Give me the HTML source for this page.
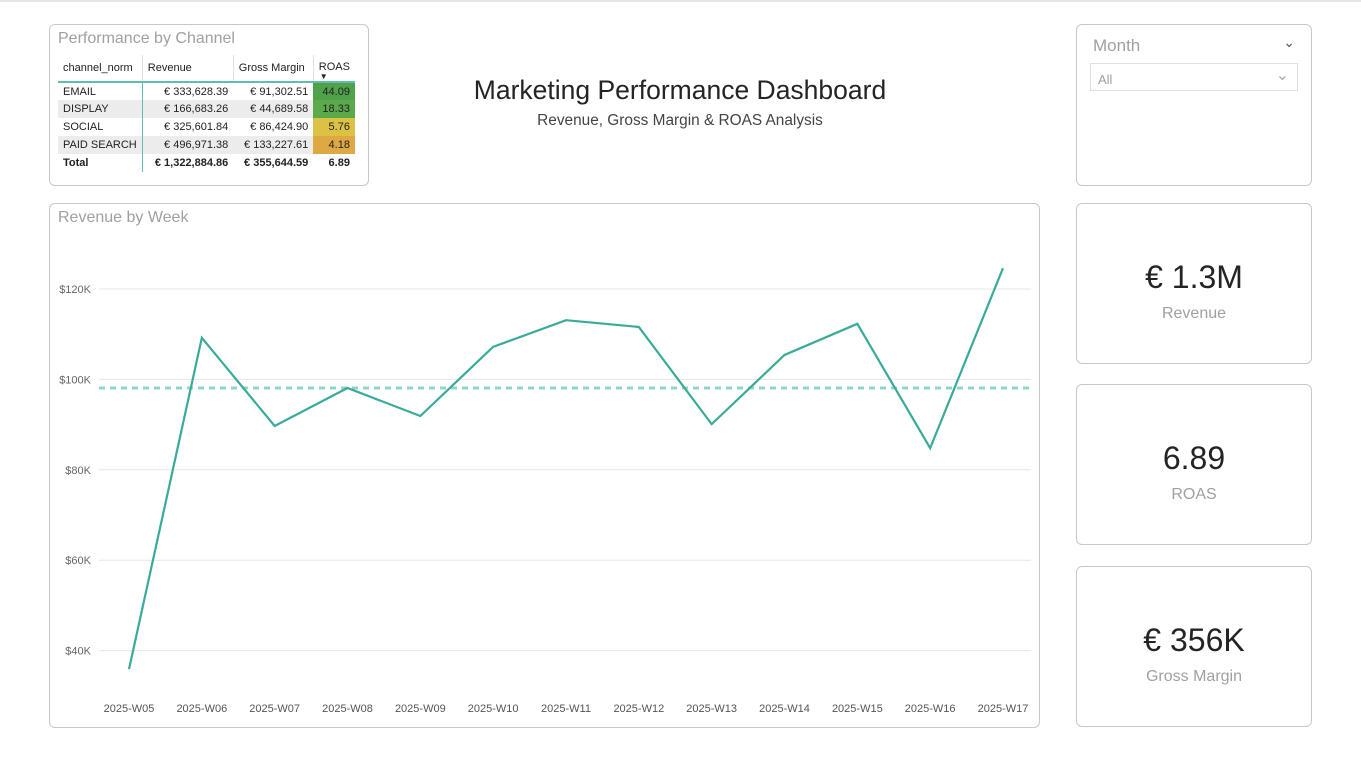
<!DOCTYPE html>
<html><head><meta charset="utf-8">
<style>
*{box-sizing:border-box;margin:0;padding:0}
body{width:1361px;height:767px;background:#fff;font-family:"Liberation Sans",sans-serif;position:relative;overflow:hidden}
.card{position:absolute;border:1px solid #c8c8c8;border-radius:6px;background:#fff}
.ttl{position:absolute;color:#a0a0a0;font-size:16px}
table{position:absolute;left:8px;top:30px;border-collapse:collapse;font-size:11px;color:#222}
td{height:18px;padding:0 5px;white-space:nowrap}
th{font-weight:normal;text-align:left;height:27px;padding:0 5px;vertical-align:middle;border-bottom:2px solid #5fbfae}
.r{text-align:right}
.sh td{background:#ececec}
.vl{border-left:1px solid #e0e0e0}
.kpi{text-align:center}
.kv{position:absolute;left:0;right:0;font-size:32px;color:#252423}
.kl{position:absolute;left:0;right:0;font-size:16px;color:#a0a0a0}
</style></head><body>
<div style="position:absolute;left:0;top:0;width:1361px;height:2px;background:#e6e6e6"></div>

<div class="card" style="left:49px;top:24px;width:320px;height:162px">
<div class="ttl" style="left:8px;top:5px">Performance by Channel</div>
<table>
<tr><th style="width:82px">channel_norm</th><th class="vl" style="width:91px">Revenue</th><th class="vl" style="width:80px">Gross Margin</th><th class="vl" style="width:41px;position:relative;vertical-align:top;padding-top:6px">ROAS<span style="position:absolute;left:6px;bottom:0px;font-size:8px">▼</span></th></tr>
<tr><td>EMAIL</td><td class="r" style="border-left:1px solid #5fbfae">€ 333,628.39</td><td class="r">€ 91,302.51</td><td class="r" style="background:#4fa14a">44.09</td></tr>
<tr class="sh"><td>DISPLAY</td><td class="r" style="border-left:1px solid #5fbfae">€ 166,683.26</td><td class="r">€ 44,689.58</td><td class="r" style="background:#5ba94a">18.33</td></tr>
<tr><td>SOCIAL</td><td class="r" style="border-left:1px solid #5fbfae">€ 325,601.84</td><td class="r">€ 86,424.90</td><td class="r" style="background:#dcc243">5.76</td></tr>
<tr class="sh"><td>PAID SEARCH</td><td class="r" style="border-left:1px solid #5fbfae">€ 496,971.38</td><td class="r">€ 133,227.61</td><td class="r" style="background:#dea845">4.18</td></tr>
<tr style="font-weight:bold"><td>Total</td><td class="r" style="border-left:1px solid #5fbfae">€ 1,322,884.86</td><td class="r">€ 355,644.59</td><td class="r">6.89</td></tr>
</table>
</div>

<div style="position:absolute;left:380px;width:600px;top:75px;text-align:center;font-size:26.5px;color:#252423">Marketing Performance Dashboard</div>
<div style="position:absolute;left:380px;width:600px;top:112px;text-align:center;font-size:15.4px;color:#444">Revenue, Gross Margin &amp; ROAS Analysis</div>

<div class="card" style="left:1076px;top:24px;width:236px;height:162px">
<div class="ttl" style="left:16px;top:11px;font-size:17px">Month</div>
<div style="position:absolute;right:16px;top:9px;color:#555;font-size:14px">&#8964;</div>
<div style="position:absolute;left:13px;top:38px;width:208px;height:28px;border:1px solid #e0e0e0;color:#a0a0a0;font-size:13px;padding:8px 0 0 7px">All<span style="position:absolute;right:8px;top:1px;font-size:16px;color:#aaa">&#8964;</span></div>
</div>

<div class="card kpi" style="left:1076px;top:203px;width:236px;height:161px">
<div class="kv" style="top:55px">€ 1.3M</div><div class="kl" style="top:101px">Revenue</div></div>
<div class="card kpi" style="left:1076px;top:384px;width:236px;height:161px">
<div class="kv" style="top:55px">6.89</div><div class="kl" style="top:101px">ROAS</div></div>
<div class="card kpi" style="left:1076px;top:566px;width:236px;height:161px">
<div class="kv" style="top:55px">€ 356K</div><div class="kl" style="top:101px">Gross Margin</div></div>

<div class="card" style="left:49px;top:203px;width:991px;height:525px">
<div class="ttl" style="left:8px;top:5px">Revenue by Week</div>
</div>
<svg id="chart" style="position:absolute;left:0;top:0" width="1361" height="767"></svg>

<script>
const weeks=["2025-W05","2025-W06","2025-W07","2025-W08","2025-W09","2025-W10","2025-W11","2025-W12","2025-W13","2025-W14","2025-W15","2025-W16","2025-W17"];
const revenue=[35.9,109.2,89.7,98.1,91.9,107.2,113.1,111.6,90.1,105.4,112.3,84.8,124.6];
const avgRevenue=[98.1];
const yTicks=[40,60,80,100,120];
const yTickLabels=["$40K","$60K","$80K","$100K","$120K"];
const NS="http://www.w3.org/2000/svg";
const svg=document.getElementById('chart');
const x=i=>129+i*(1003-129)/(weeks.length-1);
const y=v=>289+(120-v)*4.52;
function mk(t,a){const e=document.createElementNS(NS,t);for(const k in a)e.setAttribute(k,a[k]);svg.appendChild(e);return e;}
yTicks.forEach((t,i)=>{
 const g=mk('line',{x1:99,x2:1031,y1:y(t),y2:y(t),stroke:'#e6e6e6','stroke-width':1});
 
 
 const l=mk('text',{x:91,y:y(t)+4,'text-anchor':'end','font-size':11,fill:'#666','font-family':'Liberation Sans, sans-serif'});
 l.textContent=yTickLabels[i];
 
 
});
weeks.forEach((w,i)=>{
 const l=mk('text',{x:x(i),y:712,'text-anchor':'middle','font-size':11,fill:'#555','font-family':'Liberation Sans, sans-serif'});
 l.textContent=w;
 
 
});
const avg=mk('line',{x1:99,x2:1031,y1:y(avgRevenue[0]),y2:y(avgRevenue[0]),stroke:'#8fd6c8','stroke-width':3,'stroke-dasharray':'6 5'});


const p=mk('polyline',{points:revenue.map((v,i)=>x(i)+','+y(v)).join(' '),fill:'none',stroke:'#3aaa99','stroke-width':2.2});


</script>
</body></html>
